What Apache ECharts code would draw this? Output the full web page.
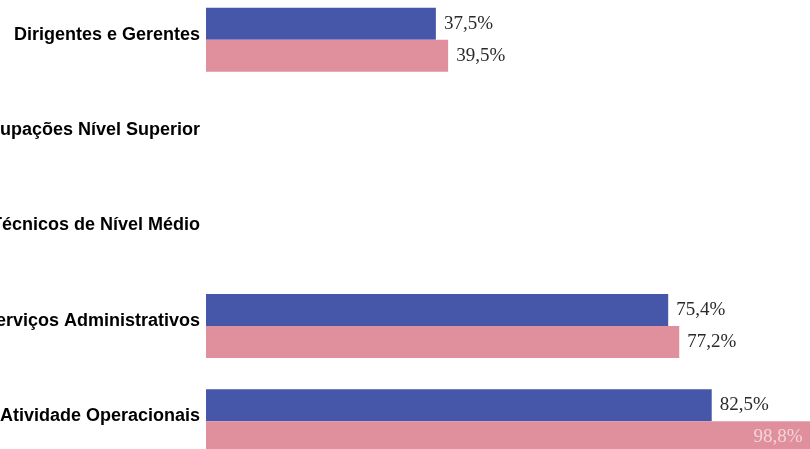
<!DOCTYPE html>
<html>
<head>
<meta charset="utf-8">
<script src="https://cdn.jsdelivr.net/npm/echarts@6/dist/echarts.min.js"></script>
<style>
  html, body { margin: 0; padding: 0; background: #fff; }
  #chart { width: 810px; height: 449px; }
</style>
</head>
<body>
<div id="chart"></div>
<script>
// categorias (eixo vertical)
const categorias = [
  'Dirigentes e Gerentes',
  'Ocupações Nível Superior',
  'Técnicos de Nível Médio',
  'Serviços Administrativos',
  'Atividade Operacionais'
];
// série azul e série rosa (% ), vazio onde não há barra
const serieAzul = [37.5, null, null, 75.4, 82.5];
const serieRosa = [39.5, null, null, 77.2, 98.8];

const chart = echarts.init(document.getElementById('chart'));

// formata 37.5 -> "37,5%"
const fmt = p => p.value == null ? '' : p.value.toFixed(1).replace('.', ',') + '%';

const labelBase = {
  show: true,
  position: 'right',
  distance: 8,
  fontFamily: 'Liberation Serif',
  fontSize: 19,
  color: '#2a2a2a',
  formatter: fmt
};

chart.setOption({
  animation: false,
  grid: {
    left: 206, top: -8, width: 613, height: 477,
    containLabel: false,
    outerBoundsMode: 'none'
  },
  xAxis: { type: 'value', min: 0, max: 100, show: false },
  yAxis: {
    type: 'category',
    inverse: true,
    data: categorias,
    axisLine: { show: false },
    axisTick: { show: false },
    axisLabel: {
      margin: 6,
      // linha vazia embaixo para subir o texto ~5px
      formatter: v => '{t|' + v + '}\n{s|}',
      rich: {
        t: {
          fontFamily: 'Liberation Sans',
          fontWeight: 'bold',
          fontSize: 18,
          color: '#000',
          lineHeight: 20
        },
        s: { fontSize: 1, lineHeight: 10 }
      }
    }
  },
  series: [
    {
      type: 'bar',
      data: serieAzul,
      barWidth: 32,
      barGap: '0%',
      itemStyle: { color: '#4656a8' },
      label: labelBase
    },
    {
      type: 'bar',
      data: serieRosa.map((v, i) => i === 4
        ? { value: v, label: { position: 'insideRight', distance: 9, color: '#f3d6db' } }
        : v),
      barWidth: 32,
      itemStyle: { color: '#e08f9c' },
      label: labelBase
    }
  ]
});
</script>
</body>
</html>
